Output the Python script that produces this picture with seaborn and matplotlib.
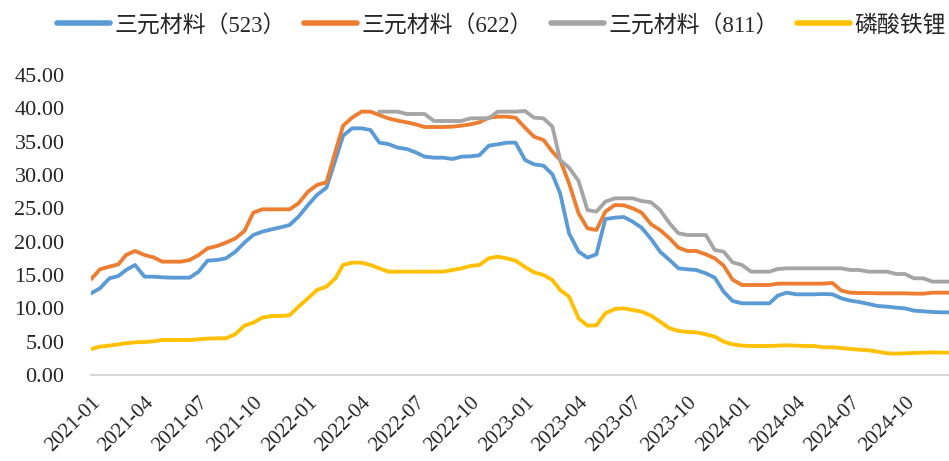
import numpy as np
import pandas as pd
import matplotlib.pyplot as plt
import matplotlib.dates as mdates
import seaborn as sns

# theme first, fonts after (set_style resets font.family)
sns.set_style("white")
plt.rcParams["font.family"] = ["Liberation Serif", "Noto Sans CJK SC"]

# 1st and 16th of each month, 2021-01 .. 2024-12
dates = pd.to_datetime([f"{y}-{m:02d}-{d:02d}"
                        for y in range(2021, 2025)
                        for m in range(1, 13)
                        for d in (1, 16)])

ncm_523 = [
    12.25, 13.0, 14.5, 14.85, 15.75, 16.5, 14.75, 14.75, 14.65, 14.6, 14.6, 14.6,
    15.5, 17.15, 17.25, 17.5, 18.5, 19.85, 21.0, 21.5, 21.85, 22.15, 22.5, 23.75,
    25.5, 27.0, 28.1, 32.25, 35.9, 37.0, 37.0, 36.75, 34.85, 34.65, 34.1, 33.9,
    33.4, 32.75, 32.6, 32.6, 32.4, 32.75, 32.8, 32.95, 34.4, 34.6, 34.85, 34.85,
    32.25, 31.6, 31.4, 30.1, 27.25, 21.25, 18.5, 17.6, 18.1, 23.4, 23.6, 23.7,
    23.0, 22.1, 20.4, 18.5, 17.25, 16.0, 15.85, 15.75, 15.25, 14.6, 12.5, 11.1,
    10.75, 10.75, 10.75, 10.75, 11.9, 12.35, 12.1, 12.1, 12.1, 12.15, 12.1, 11.5,
    11.15, 10.95, 10.65, 10.35, 10.25, 10.1, 10.0, 9.65, 9.55, 9.45, 9.4, 9.4,
]
ncm_622 = [
    14.35, 15.85, 16.25, 16.6, 18.0, 18.6, 18.0, 17.65, 17.0, 17.0, 17.0, 17.25,
    18.0, 19.0, 19.35, 19.85, 20.5, 21.6, 24.35, 24.85, 24.85, 24.85, 24.85, 25.75,
    27.5, 28.5, 28.9, 33.5, 37.4, 38.6, 39.5, 39.5, 39.0, 38.5, 38.15, 37.9,
    37.6, 37.2, 37.2, 37.2, 37.25, 37.4, 37.6, 37.9, 38.6, 38.75, 38.75, 38.6,
    37.1, 35.75, 35.25, 33.5, 32.25, 28.75, 24.25, 22.0, 21.75, 24.5, 25.5, 25.45,
    25.0, 24.35, 22.6, 21.75, 20.5, 19.1, 18.6, 18.6, 18.1, 17.5, 16.4, 14.3,
    13.5, 13.5, 13.5, 13.5, 13.7, 13.7, 13.7, 13.7, 13.7, 13.7, 13.8, 12.65,
    12.35, 12.3, 12.3, 12.25, 12.25, 12.25, 12.25, 12.2, 12.2, 12.35, 12.35, 12.35,
]
ncm_811 = [np.nan] * 32 + [
    39.5, 39.5, 39.5, 39.15, 39.15, 39.15, 38.1, 38.1,
    38.1, 38.1, 38.5, 38.5, 38.5, 39.5, 39.5, 39.5,
    39.6, 38.6, 38.5, 37.25, 32.25, 31.1, 29.1, 24.75, 24.5, 26.0, 26.5, 26.5,
    26.5, 26.1, 25.9, 24.75, 22.75, 21.25, 21.0, 21.0, 21.0, 18.75, 18.5, 16.9,
    16.5, 15.5, 15.5, 15.5, 15.9, 16.0, 16.0, 16.0, 16.0, 16.0, 16.0, 16.0,
    15.75, 15.75, 15.5, 15.5, 15.5, 15.15, 15.15, 14.5, 14.5, 14.0, 14.0, 14.0,
]
lfp = [
    3.9, 4.25, 4.4, 4.6, 4.75, 4.9, 4.95, 5.05, 5.25, 5.25, 5.25, 5.25,
    5.35, 5.45, 5.5, 5.5, 6.15, 7.4, 7.85, 8.6, 8.85, 8.85, 8.95, 10.25,
    11.5, 12.75, 13.25, 14.5, 16.5, 16.85, 16.85, 16.5, 16.0, 15.5, 15.5, 15.5,
    15.5, 15.5, 15.5, 15.5, 15.75, 16.0, 16.35, 16.5, 17.5, 17.75, 17.5, 17.15,
    16.2, 15.4, 15.0, 14.25, 12.75, 11.75, 8.5, 7.4, 7.45, 9.25, 9.9, 10.0,
    9.75, 9.5, 8.9, 8.0, 7.0, 6.6, 6.45, 6.4, 6.1, 5.75, 5.0, 4.6,
    4.4, 4.35, 4.35, 4.35, 4.4, 4.45, 4.4, 4.35, 4.35, 4.15, 4.15, 4.05,
    3.9, 3.8, 3.7, 3.5, 3.25, 3.2, 3.25, 3.3, 3.35, 3.4, 3.35, 3.35,
]

series_names = ["三元材料（523）", "三元材料（622）", "三元材料（811）", "磷酸铁锂"]
colors = ["#5B9BD5", "#ED7D31", "#A5A5A5", "#FFC000"]
y_ticks = [0, 5, 10, 15, 20, 25, 30, 35, 40, 45]

df = pd.DataFrame({"date": dates,
                   series_names[0]: ncm_523,
                   series_names[1]: ncm_622,
                   series_names[2]: ncm_811,
                   series_names[3]: lfp})
long_df = df.melt(id_vars="date", var_name="series", value_name="price")

fig = plt.figure(figsize=(9.49, 4.61), dpi=100)
ax = fig.add_axes([0.0959, 0.1866, 0.9041, 0.6507])

sns.lineplot(data=long_df, x="date", y="price", hue="series",
             hue_order=series_names, palette=colors, linewidth=2.75,
             errorbar=None, ax=ax)

# axes styling
ax.set_xlim(pd.Timestamp("2021-01-01"), pd.Timestamp("2024-12-14"))
ax.set_ylim(0, 45)
ax.set_yticks(y_ticks)
ax.yaxis.set_major_formatter(plt.FormatStrFormatter("%.2f"))
ax.xaxis.set_major_locator(mdates.MonthLocator(bymonth=[1, 4, 7, 10]))
ax.xaxis.set_major_formatter(mdates.DateFormatter("%Y-%m"))
ax.set_xlabel("")
ax.set_ylabel("")

for side in ["left", "top", "right"]:
    ax.spines[side].set_visible(False)
ax.spines["bottom"].set_color("#D9D9D9")
ax.spines["bottom"].set_linewidth(1.5)

ax.tick_params(axis="y", length=0, pad=19, labelsize=16)
ax.tick_params(axis="x", direction="out", length=6, width=1.5,
               color="#D9D9D9", labelsize=15, pad=7)
plt.setp(ax.get_xticklabels(), rotation=45, ha="right", rotation_mode="anchor")

# legend on top in one row
handles, labels = ax.get_legend_handles_labels()
ax.get_legend().remove()
for h in handles:
    h.set_linewidth(4)
fig.legend(handles, labels, loc="center left", bbox_to_anchor=(0.060, 0.945),
           ncol=4, frameon=False, fontsize=16.5, handlelength=2.3,
           handletextpad=0.2, columnspacing=0.8, borderaxespad=0, borderpad=0)

fig.savefig("out.png", dpi=100)
